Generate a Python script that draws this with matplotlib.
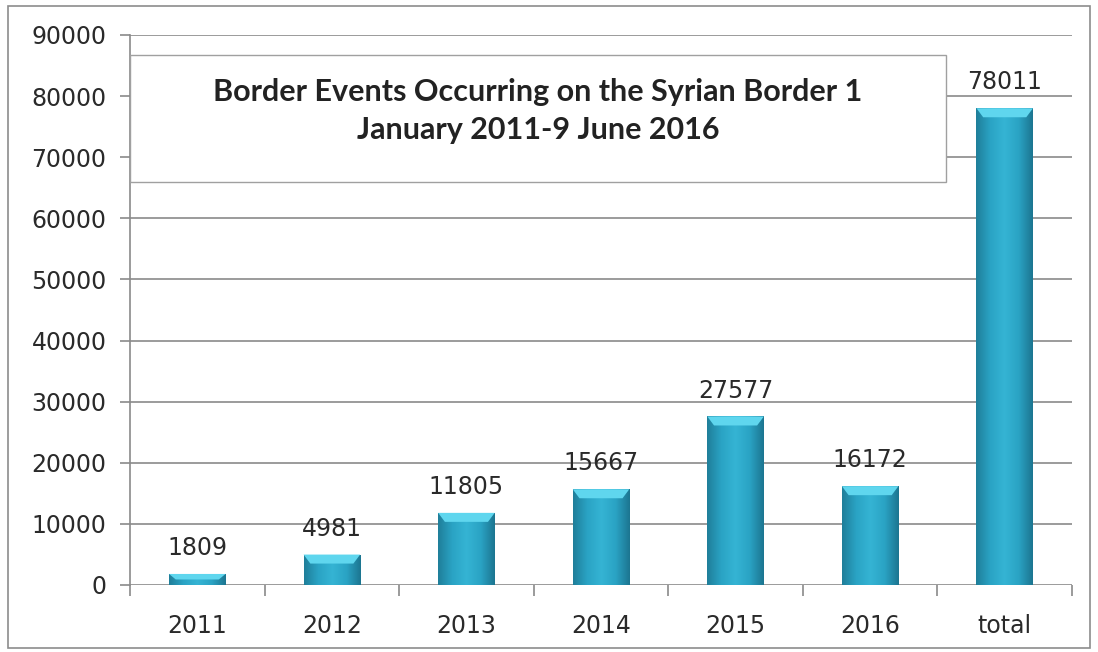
import numpy as np
import matplotlib
matplotlib.use("Agg")
import matplotlib.pyplot as plt
from matplotlib.patches import Rectangle, Polygon
from matplotlib.colors import LinearSegmentedColormap

categories = ["2011", "2012", "2013", "2014", "2015", "2016", "total"]
events = [1809, 4981, 11805, 15667, 27577, 16172, 78011]
yticks = [0, 10000, 20000, 30000, 40000, 50000, 60000, 70000, 80000, 90000]
title_lines = ["Border Events Occurring on the Syrian Border 1", "January 2011-9 June 2016"]

W, H, DPI = 1098, 652, 100
fig = plt.figure(figsize=(W / DPI, H / DPI), dpi=DPI)
fig.patch.set_facecolor("white")

# outer frame around the whole chart
fig.add_artist(Rectangle((8 / W, 4 / H), 1082 / W, 642 / H, transform=fig.transFigure,
                         fill=False, edgecolor="#8c8c8c", linewidth=1.2))

ax = fig.add_axes([130 / W, (H - 585) / H, (1072 - 130) / W, (585 - 35) / H])
ax.set_xlim(-0.5, len(categories) - 0.5)
ax.set_ylim(0, 90000)

grid_color = "#8a8a8a"
text_color = "#2a2a2a"
for v in yticks:
    ax.axhline(v, color=grid_color, linewidth=1.2, zorder=1)

for s in ["top", "right", "bottom"]:
    ax.spines[s].set_visible(False)
ax.spines["left"].set_color(grid_color)
ax.spines["left"].set_linewidth(1.2)

ax.set_yticks(yticks)
ax.set_yticklabels([str(v) for v in yticks])
ax.tick_params(axis="y", length=7, width=1.2, color=grid_color, direction="out",
               labelsize=17, labelcolor=text_color, pad=10)
ax.set_xticks(range(len(categories)))
ax.set_xticklabels(categories)
ax.tick_params(axis="x", length=0, labelsize=17, labelcolor=text_color, pad=21)
# ticks at category boundaries
ax.set_xticks(np.arange(-0.5, len(categories)), minor=True)
ax.tick_params(axis="x", which="minor", length=8, width=1.2, color=grid_color, direction="out")
for lbl in ax.get_yticklabels() + ax.get_xticklabels():
    lbl.set_family("DejaVu Sans")

bar_w = 0.42
cmap = LinearSegmentedColormap.from_list(
    "cyl", ["#1f7e99", "#2aa3c4", "#35b4d4", "#2aa3c4", "#1c7590"])
grad = np.linspace(0, 1, 256).reshape(1, -1)
px_per_val = (585 - 35) / 90000.0
bevel = 9 / px_per_val

for i, v in enumerate(events):
    bars = ax.bar(i, v, width=bar_w, color="#2aa3c4", edgecolor="none", zorder=3)
    rect = bars[0]
    im = ax.imshow(grad, extent=(i - bar_w / 2, i + bar_w / 2, 0, v), aspect="auto",
                   cmap=cmap, zorder=3.5, interpolation="bilinear")
    im.set_clip_path(rect)
    b = min(bevel, v * 0.5)
    inset = 0.05
    top = Polygon([(i - bar_w / 2, v), (i + bar_w / 2, v),
                   (i + bar_w / 2 - inset, v - b), (i - bar_w / 2 + inset, v - b)],
                  closed=True, facecolor="#5fd6ee", edgecolor="none", zorder=4)
    ax.add_patch(top)
    ax.annotate(str(v), (i, v), xytext=(0, 10), textcoords="offset points",
                ha="center", va="bottom", fontsize=17, color=text_color,
                family="DejaVu Sans", zorder=6)

# title box
box_x0, box_x1 = -0.5, 5.56
box_y0, box_y1 = 66000, 86700
ax.add_patch(Rectangle((box_x0, box_y0), box_x1 - box_x0, box_y1 - box_y0,
                       facecolor="white", edgecolor="#a0a0a0", linewidth=1.0, zorder=5))
cx = (538 - 130) / (1072 - 130) * len(categories) - 0.5
ax.text(cx, box_y1 - 37 / px_per_val, title_lines[0], ha="center", va="center",
        fontsize=22, fontweight="bold", family="Lato", color="#222222", zorder=6)
ax.text(cx, box_y1 - 75 / px_per_val, title_lines[1], ha="center", va="center",
        fontsize=22, fontweight="bold", family="Lato", color="#222222", zorder=6)

fig.savefig("out.png", dpi=DPI)
